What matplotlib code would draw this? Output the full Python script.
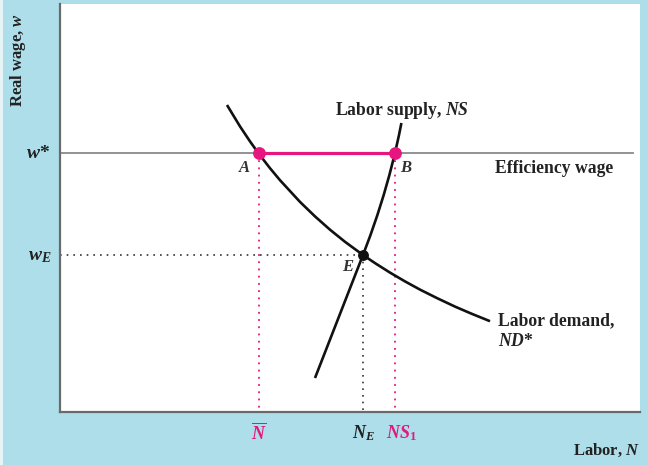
import matplotlib
matplotlib.use("Agg")
import matplotlib.pyplot as plt
from matplotlib.patches import Rectangle

plt.rcParams['mathtext.fontset'] = 'custom'
plt.rcParams['mathtext.rm'] = 'Liberation Serif:bold'
plt.rcParams['mathtext.it'] = 'Liberation Serif:italic:bold'
plt.rcParams['mathtext.bf'] = 'Liberation Serif:bold'

# ---- data (diagram units: labor N to the right, wage w measured downward from the top) ----
demand_N = [227, 240, 250, 259, 270, 280, 300, 315, 330, 345, 363, 375, 390, 405, 420, 437, 455, 472, 490]
demand_w = [105, 126.4, 141.4, 154, 168.2, 180.2, 201.9, 216.4, 229.7, 241.8, 255,
            263.1, 272.6, 281.4, 289.6, 298.1, 306.6, 313.9, 321.2]
supply_N = [315, 339, 363, 370.5, 377.4, 383.7, 389.4, 395, 399.0, 401.4]
supply_w = [378, 316.5, 255, 235, 215, 195, 175, 153, 135, 123]
w_star = 153
w_E = 255
N_bar = 259
N_E = 363
NS_1 = 395
x_min, x_max = 60, 640
y_top, y_bottom = 4, 412
eff_line_end = 633

PINK = '#e5177e'
BLUE = '#addeea'
SERIF = 'Liberation Serif'

fig = plt.figure(figsize=(6.48, 4.65), dpi=100, facecolor=BLUE)
fig.patches.append(Rectangle((0, 0), 3/648, 1, transform=fig.transFigure,
                             facecolor='#e6f4f8', edgecolor='none', zorder=0))
ax = fig.add_axes([60/648, (465-412)/465, 580/648, 408/465])
ax.set_facecolor('white')
ax.set_xlim(x_min, x_max)
ax.set_ylim(y_bottom, y_top)
for s in ['top', 'right']:
    ax.spines[s].set_visible(False)
for s in ['left', 'bottom']:
    ax.spines[s].set_color('#6a6a6a')
    ax.spines[s].set_linewidth(1.6)
ax.set_xticks([])
ax.set_yticks([])

dot = (0, (1, 3))
# efficiency wage line
ax.plot([x_min, eff_line_end], [w_star, w_star], color='#8a8a8a', lw=1.3, zorder=2)
# dotted guides
ax.plot([x_min, N_E], [w_E, w_E], color='#333333', lw=1.2, ls=dot, zorder=2)
ax.plot([N_E, N_E], [w_E, y_bottom], color='#333333', lw=1.2, ls=dot, zorder=2)
ax.plot([N_bar, N_bar], [w_star, y_bottom], color=PINK, lw=1.3, ls=dot, zorder=2)
ax.plot([NS_1, NS_1], [w_star, y_bottom], color=PINK, lw=1.3, ls=dot, zorder=2)

# curves
ax.plot(demand_N, demand_w, color='#111111', lw=1.9, solid_capstyle='butt',
        solid_joinstyle='round', zorder=3)
ax.plot(supply_N, supply_w, color='#111111', lw=1.9, solid_capstyle='butt',
        solid_joinstyle='round', zorder=3)

# unemployment segment
ax.plot([N_bar, NS_1], [w_star, w_star], color=PINK, lw=2.3, zorder=4)
ax.plot([N_bar, NS_1], [w_star, w_star], 'o', color=PINK, ms=8.2, zorder=5)
ax.plot([N_E], [w_E], 'o', color='#111111', ms=6.8, zorder=5)

# point labels
ax.text(245, 167, '$A$', fontsize=12, color='#333333', ha='center', va='center')
ax.text(406, 167, '$B$', fontsize=12, color='#333333', ha='center', va='center')
ax.text(348, 266, '$E$', fontsize=12, color='#333333', ha='center', va='center')

# curve labels
FS = 12.7
ax.text(335, 110, 'Labor supply, $NS$', fontsize=FS, color='#222222',
        family=SERIF, weight='bold', ha='left', va='center')
ax.text(495, 168, 'Efficiency wage', fontsize=FS, color='#222222',
        family=SERIF, weight='bold', ha='left', va='center')
ax.text(498, 321, 'Labor demand,', fontsize=FS, color='#222222',
        family=SERIF, weight='bold', ha='left', va='center')
ax.text(498, 341, '$ND$*', fontsize=FS, color='#222222',
        family=SERIF, weight='bold', ha='left', va='center')

# y-axis value labels
ax.text(50, w_star, '$w$*', fontsize=14, color='#222222', family=SERIF,
        weight='bold', ha='right', va='center', clip_on=False)
ax.text(51, w_E, '$w_E$', fontsize=14, color='#222222',
        ha='right', va='center', clip_on=False)

# x-axis value labels
ax.text(N_bar, 433, r'$\overline{N}$', fontsize=13, color=PINK,
        ha='center', va='center', clip_on=False)
ax.text(N_E + 1, 433, '$N_E$', fontsize=13, color='#222222',
        ha='center', va='center', clip_on=False)
ax.text(NS_1 + 6, 433, '$NS_1$', fontsize=13, color=PINK,
        ha='center', va='center', clip_on=False)

# axis titles
fig.text(640/648, 1 - 450/465, 'Labor, $N$', fontsize=12, color='#222222',
         family=SERIF, weight='bold', ha='right', va='center')
fig.text(18/648, 1 - 60/465, 'Real wage, $w$', fontsize=12, color='#222222',
         family=SERIF, weight='bold', ha='center', va='center', rotation=90)

fig.savefig('out.png', dpi=100, facecolor=BLUE)
